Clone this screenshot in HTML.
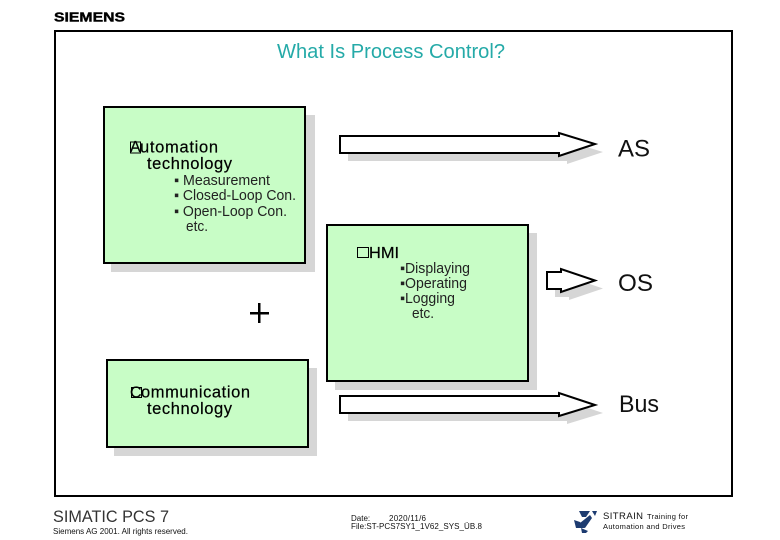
<!DOCTYPE html>
<html>
<head>
<meta charset="utf-8">
<style>
html,body{margin:0;padding:0;background:#fff}
svg{display:block}
text{font-family:"Liberation Sans",Arial,sans-serif;fill:#000}
</style>
</head>
<body>
<svg width="780" height="540" viewBox="0 0 780 540" xmlns="http://www.w3.org/2000/svg">
<rect width="780" height="540" fill="#fff"/>
<text x="54" y="21.500" font-size="13" font-weight="bold" textLength="71" lengthAdjust="spacingAndGlyphs" stroke="#000" stroke-width=".4">SIEMENS</text>
<rect x="55" y="31" width="677" height="465" fill="#fff" stroke="#000" stroke-width="2"/>
<text x="277" y="58" font-size="20" style="fill:#25aaa8" textLength="228" lengthAdjust="spacingAndGlyphs">What Is Process Control?</text>

<!-- shadows -->
<g fill="#d6d6d6">
<rect x="111" y="115" width="204" height="157"/>
<rect x="335" y="233" width="202" height="157"/>
<rect x="114" y="368" width="203" height="88"/>
<polygon points="348,144 567,144 567,141 603,152 567,164 567,161 348,161"/>
<polygon points="555,280 569,280 569,277 603,288.500 569,300 569,297 555,297"/>
<polygon points="348,404 567,404 567,401 603,413 567,424 567,421 348,421"/>
</g>

<!-- boxes -->
<g fill="#c8fdc6" stroke="#000" stroke-width="2">
<rect x="104" y="107" width="201" height="156"/>
<rect x="327" y="225" width="201" height="156"/>
<rect x="107" y="360" width="201" height="87"/>
</g>

<!-- arrows -->
<g fill="#fff" stroke="#000" stroke-width="2">
<polygon points="340,136 559,136 559,133 595,144 559,156 559,153 340,153"/>
<polygon points="547,272 561,272 561,269 595,280.500 561,292 561,289 547,289"/>
<polygon points="340,396 559,396 559,393 595,405 559,416 559,413 340,413"/>
</g>

<!-- box 1 text -->
<rect x="130.500" y="142" width="10" height="11" fill="none" stroke="#000" stroke-width="1"/>
<text x="130" y="152" font-size="16" stroke="#000" stroke-width=".2">A</text>
<text x="140" y="152.500" font-size="16.500" stroke="#000" stroke-width=".2" textLength="78" lengthAdjust="spacing">utomation</text>
<text x="147" y="169" font-size="16.500" stroke="#000" stroke-width=".2" textLength="85" lengthAdjust="spacing">technology</text>
<g font-size="14.500" style="fill:#222">
<text x="174" y="185" textLength="96" style="fill:#222" lengthAdjust="spacingAndGlyphs">▪ Measurement</text>
<text x="174" y="200" textLength="122" style="fill:#222" lengthAdjust="spacingAndGlyphs">▪ Closed-Loop Con.</text>
<text x="174" y="216" textLength="113" style="fill:#222" lengthAdjust="spacingAndGlyphs">▪ Open-Loop Con.</text>
<text x="186" y="231" textLength="22" style="fill:#222" lengthAdjust="spacingAndGlyphs">etc.</text>
</g>

<!-- box 2 text -->
<rect x="357.500" y="247.500" width="11" height="10" fill="none" stroke="#000" stroke-width="1"/>
<text x="369" y="258" font-size="16" stroke="#000" stroke-width=".2" textLength="30" lengthAdjust="spacingAndGlyphs">HMI</text>
<g font-size="14.500">
<text x="400" y="273" textLength="70" style="fill:#222" lengthAdjust="spacingAndGlyphs">▪Displaying</text>
<text x="400" y="288" textLength="67" style="fill:#222" lengthAdjust="spacingAndGlyphs">▪Operating</text>
<text x="400" y="303" textLength="55" style="fill:#222" lengthAdjust="spacingAndGlyphs">▪Logging</text>
<text x="412" y="318" textLength="22" style="fill:#222" lengthAdjust="spacingAndGlyphs">etc.</text>
</g>

<!-- box 3 text -->
<rect x="131.500" y="387.500" width="10" height="10" fill="none" stroke="#000" stroke-width="1"/>
<text x="130" y="397.500" font-size="16" stroke="#000" stroke-width=".2">C</text>
<text x="141" y="397.500" font-size="16.500" stroke="#000" stroke-width=".2" textLength="109" lengthAdjust="spacing">ommunication</text>
<text x="147" y="414" font-size="16.500" stroke="#000" stroke-width=".2" textLength="85" lengthAdjust="spacing">technology</text>

<!-- plus -->
<rect x="250" y="312" width="19" height="2.500" fill="#000"/>
<rect x="258" y="303" width="2.500" height="20" fill="#000"/>

<!-- right labels -->
<g font-size="24">
<text x="618" y="156.500" textLength="32" style="fill:#111" lengthAdjust="spacingAndGlyphs">AS</text>
<text x="618" y="291" textLength="35" style="fill:#111" lengthAdjust="spacingAndGlyphs">OS</text>
<text x="619" y="412" textLength="40" style="fill:#111" lengthAdjust="spacingAndGlyphs">Bus</text>
</g>

<!-- footer -->
<text x="53" y="522" font-size="17" textLength="116" lengthAdjust="spacingAndGlyphs" style="fill:#333">SIMATIC PCS 7</text>
<text x="53" y="534" font-size="8" textLength="135" lengthAdjust="spacing" style="fill:#111">Siemens AG 2001. All rights reserved.</text>
<text x="351" y="521" font-size="8" style="fill:#111">Date:</text>
<text x="389" y="521" font-size="8" textLength="37" lengthAdjust="spacing" style="fill:#111">2020/11/6</text>
<text x="351" y="529" font-size="8" textLength="131" lengthAdjust="spacing" style="fill:#111">File:ST-PCS7SY1_1V62_SYS_ÜB.8</text>

<!-- logo -->
<g fill="#1d3b70">
<polygon points="579,511 590,511 586,517 582,517"/>
<polygon points="592,511 597,511 595,516"/>
<polygon points="580,523 590,515 592,518 585,528"/>
<polygon points="574,520 580,522 585,528 576,528"/>
<polygon points="581,528 588,531 586,533 582,533"/>
</g>

<text x="603" y="519" font-size="9.500" textLength="40" lengthAdjust="spacing" style="fill:#111">SITRAIN</text>
<text x="647" y="519" font-size="7.500" textLength="41" lengthAdjust="spacing" style="fill:#111">Training for</text>
<text x="603" y="529" font-size="7.500" textLength="82" lengthAdjust="spacing" style="fill:#111">Automation and Drives</text>
</svg>
</body>
</html>
